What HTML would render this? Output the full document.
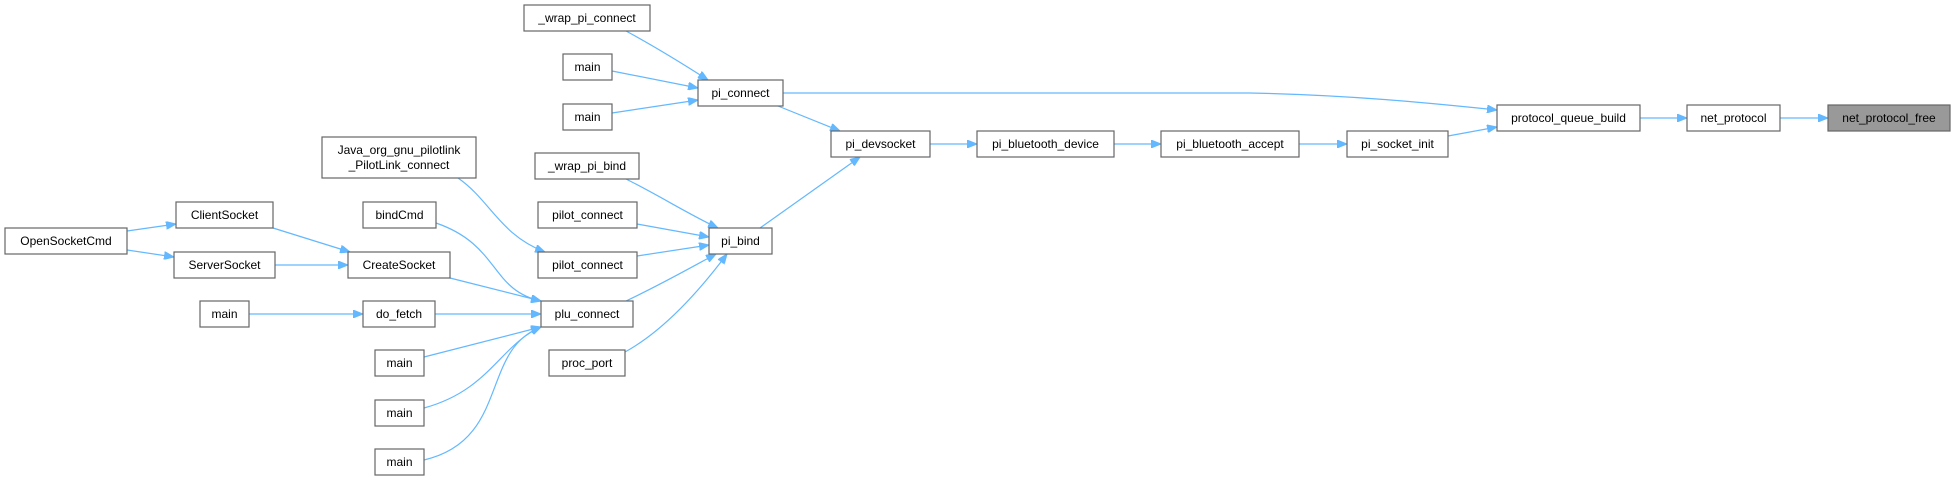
<!DOCTYPE html>
<html><head><meta charset="utf-8"><style>
html,body{margin:0;padding:0;background:#fff;}
svg{display:block;}
text{font-family:"Liberation Sans",Arial,sans-serif;font-size:12px;fill:#000;}
.n{fill:#fff;stroke:#666;stroke-width:1.2;}
.e{fill:none;stroke:#63b8ff;stroke-width:1.2;marker-end:url(#a);}
</style></head><body>
<svg width="1955" height="480" viewBox="0 0 1955 480" xmlns="http://www.w3.org/2000/svg">
<defs><marker id="a" viewBox="0 0 10 8" refX="10" refY="4" markerWidth="10" markerHeight="8" markerUnits="userSpaceOnUse" orient="auto"><path d="M0,0 L10,4 L0,8 z" fill="#63b8ff" stroke="#63b8ff"/></marker></defs>

<!-- edges -->
<path class="e" d="M626,31 C650,44 680,62 708,80"/>
<path class="e" d="M612,71 L698,88"/>
<path class="e" d="M612,113 L698,100"/>
<path class="e" d="M778,106 L840,131"/>
<path class="e" d="M783,93 L1250,93 C1350,95 1430,103 1497,110"/>
<path class="e" d="M760,228 L860,157"/>
<path class="e" d="M930,144 L977,144"/>
<path class="e" d="M1114,144 L1161,144"/>
<path class="e" d="M1299,144 L1347,144"/>
<path class="e" d="M1448,136 L1497,127"/>
<path class="e" d="M1640,118 L1687,118"/>
<path class="e" d="M1780,118 L1828,118"/>
<path class="e" d="M626,179 C660,196 690,215 718,228"/>
<path class="e" d="M637,224 L709,237"/>
<path class="e" d="M637,256 L709,245"/>
<path class="e" d="M626,301 C660,285 690,268 716,254"/>
<path class="e" d="M625,352 C665,330 700,290 727,254"/>
<path class="e" d="M458,178 C490,200 500,235 545,252"/>
<path class="e" d="M127,231 L176,224"/>
<path class="e" d="M127,250 L174,257"/>
<path class="e" d="M273,228 L350,252"/>
<path class="e" d="M275,265 L348,265"/>
<path class="e" d="M436,223 C500,245 490,290 541,301"/>
<path class="e" d="M450,278 L541,301"/>
<path class="e" d="M249,314 L363,314"/>
<path class="e" d="M435,314 L541,314"/>
<path class="e" d="M424,357 L541,327"/>
<path class="e" d="M424,408 C490,390 500,345 541,327"/>
<path class="e" d="M424,460 C510,440 480,350 541,327"/>

<!-- nodes -->
<g>
<rect class="n" x="524" y="5" width="126" height="26"/><text x="587" y="22" text-anchor="middle">_wrap_pi_connect</text>
<rect class="n" x="563" y="54" width="49" height="26"/><text x="587.5" y="71" text-anchor="middle">main</text>
<rect class="n" x="698" y="80" width="85" height="26"/><text x="740.5" y="97" text-anchor="middle">pi_connect</text>
<rect class="n" x="563" y="104" width="49" height="26"/><text x="587.5" y="121" text-anchor="middle">main</text>
<rect class="n" x="322" y="137" width="154" height="41"/><text x="399" y="154" text-anchor="middle">Java_org_gnu_pilotlink</text><text x="399" y="169" text-anchor="middle">_PilotLink_connect</text>
<rect class="n" x="535" y="153" width="104" height="26"/><text x="587" y="170" text-anchor="middle">_wrap_pi_bind</text>
<rect class="n" x="176" y="202" width="97" height="26"/><text x="224.5" y="219" text-anchor="middle">ClientSocket</text>
<rect class="n" x="363" y="202" width="73" height="26"/><text x="399.5" y="219" text-anchor="middle">bindCmd</text>
<rect class="n" x="538" y="202" width="99" height="26"/><text x="587.5" y="219" text-anchor="middle">pilot_connect</text>
<rect class="n" x="5" y="228" width="122" height="26"/><text x="66" y="245" text-anchor="middle">OpenSocketCmd</text>
<rect class="n" x="709" y="228" width="63" height="26"/><text x="740.5" y="245" text-anchor="middle">pi_bind</text>
<rect class="n" x="174" y="252" width="101" height="26"/><text x="224.5" y="269" text-anchor="middle">ServerSocket</text>
<rect class="n" x="348" y="252" width="102" height="26"/><text x="399" y="269" text-anchor="middle">CreateSocket</text>
<rect class="n" x="538" y="252" width="99" height="26"/><text x="587.5" y="269" text-anchor="middle">pilot_connect</text>
<rect class="n" x="200" y="301" width="49" height="26"/><text x="224.5" y="318" text-anchor="middle">main</text>
<rect class="n" x="363" y="301" width="72" height="26"/><text x="399" y="318" text-anchor="middle">do_fetch</text>
<rect class="n" x="541" y="301" width="92" height="26"/><text x="587" y="318" text-anchor="middle">plu_connect</text>
<rect class="n" x="375" y="350" width="49" height="26"/><text x="399.5" y="367" text-anchor="middle">main</text>
<rect class="n" x="549" y="350" width="76" height="26"/><text x="587" y="367" text-anchor="middle">proc_port</text>
<rect class="n" x="375" y="400" width="49" height="26"/><text x="399.5" y="417" text-anchor="middle">main</text>
<rect class="n" x="375" y="449" width="49" height="26"/><text x="399.5" y="466" text-anchor="middle">main</text>
<rect class="n" x="831" y="131" width="99" height="26"/><text x="880.5" y="148" text-anchor="middle">pi_devsocket</text>
<rect class="n" x="977" y="131" width="137" height="26"/><text x="1045.5" y="148" text-anchor="middle">pi_bluetooth_device</text>
<rect class="n" x="1161" y="131" width="138" height="26"/><text x="1230" y="148" text-anchor="middle">pi_bluetooth_accept</text>
<rect class="n" x="1347" y="131" width="101" height="26"/><text x="1397.5" y="148" text-anchor="middle">pi_socket_init</text>
<rect class="n" x="1497" y="105" width="143" height="26"/><text x="1568.5" y="122" text-anchor="middle">protocol_queue_build</text>
<rect class="n" x="1687" y="105" width="93" height="26"/><text x="1733.5" y="122" text-anchor="middle">net_protocol</text>
<rect x="1828" y="105" width="122" height="26" fill="#999" stroke="#666" stroke-width="1.2"/><text x="1889" y="122" text-anchor="middle">net_protocol_free</text>
</g>
</svg>
</body></html>
